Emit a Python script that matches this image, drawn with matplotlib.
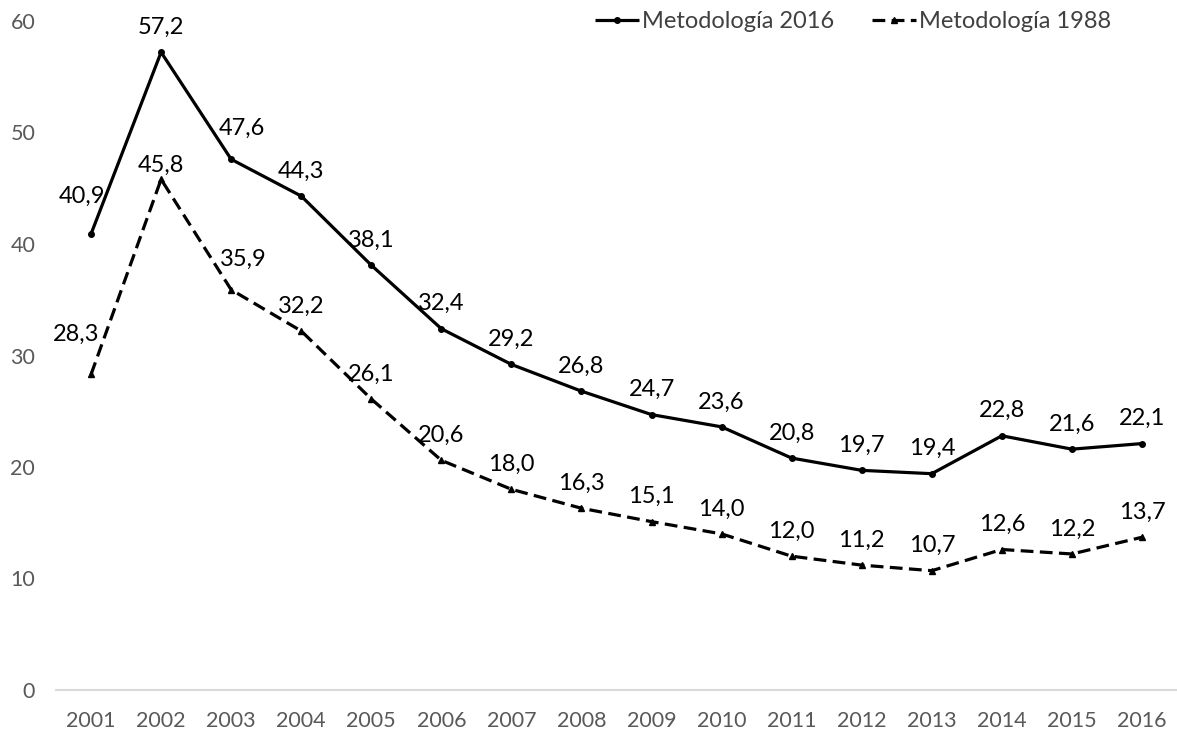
import matplotlib
matplotlib.use("Agg")
import matplotlib.pyplot as plt

plt.rcParams['font.family'] = ['Lato', 'DejaVu Sans']

years = [2001, 2002, 2003, 2004, 2005, 2006, 2007, 2008,
         2009, 2010, 2011, 2012, 2013, 2014, 2015, 2016]
met_2016 = [40.9, 57.2, 47.6, 44.3, 38.1, 32.4, 29.2, 26.8,
            24.7, 23.6, 20.8, 19.7, 19.4, 22.8, 21.6, 22.1]
met_1988 = [28.3, 45.8, 35.9, 32.2, 26.1, 20.6, 18.0, 16.3,
            15.1, 14.0, 12.0, 11.2, 10.7, 12.6, 12.2, 13.7]
series_names = ['Metodología 2016', 'Metodología 1988']

# label offsets (points) that differ from the default "above"
offsets_2016 = {0: (-6.5, 27), 2: (8, 22)}
offsets_1988 = {0: (-11, 29), 1: (0, 10), 2: (9, 22)}


def fmt(v):
    return f'{v:.1f}'.replace('.', ',')


def add_labels(ax, xs, ys, special):
    for i, (x, y) in enumerate(zip(xs, ys)):
        dx, dy = special.get(i, (0, 18))
        ax.annotate(fmt(y), (x, y), xytext=(dx, dy), textcoords='offset points',
                    ha='center', va='center', fontsize=17, color='black')


fig = plt.figure(figsize=(11.77, 7.33), dpi=100)
ax = fig.add_axes([56 / 1177, 1 - 690 / 733, 1121 / 1177, 669 / 733])

x = list(range(len(years)))
ax.plot(x, met_2016, color='black', lw=2.3, marker='o', ms=4,
        label=series_names[0], solid_capstyle='butt')
ax.plot(x, met_1988, color='black', lw=2.3, marker='^', ms=4,
        ls=(0, (4, 2)), label=series_names[1], dash_capstyle='butt')

add_labels(ax, x, met_2016, offsets_2016)
add_labels(ax, x, met_1988, offsets_1988)

ax.set_xlim(-0.5, len(years) - 0.5)
ax.set_ylim(0, 60)
ax.set_xticks(x)
ax.set_xticklabels([str(y) for y in years])
ax.set_yticks(range(0, 61, 10))

for s in ['top', 'right', 'left']:
    ax.spines[s].set_visible(False)
ax.spines['bottom'].set_color('#d9d9d9')
ax.spines['bottom'].set_linewidth(1.5)
ax.tick_params(axis='both', length=0, labelsize=15.5, labelcolor='#595959')
ax.tick_params(axis='y', pad=15)
ax.tick_params(axis='x', pad=15)

ax.legend(loc='center left', bbox_to_anchor=((595 - 56) / 1121, (690 - 22) / 669),
          ncol=2, frameon=False, fontsize=17, handlelength=1.85, handletextpad=0.15,
          columnspacing=1.6, borderpad=0, borderaxespad=0, labelcolor='#404040')

fig.savefig('out.png', dpi=100)
